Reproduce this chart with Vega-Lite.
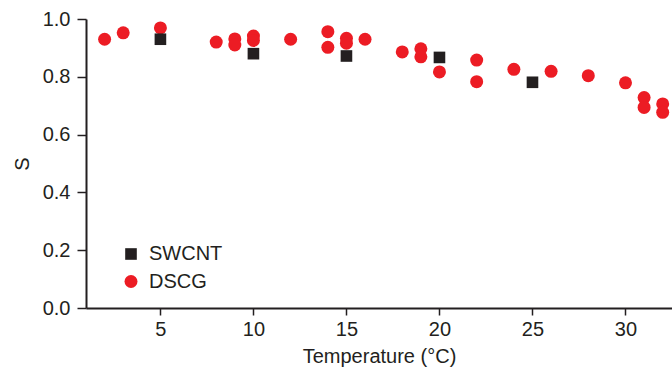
{
  "$schema": "https://vega.github.io/schema/vega-lite/v6.json",
  "width": 586,
  "height": 289,
  "autosize": "none",
  "padding": {"left": 86, "top": 19, "right": 0, "bottom": 63},
  "background": "white",
  "config": {
    "view": {"stroke": null},
    "font": "Liberation Sans",
    "axis": {
      "grid": false,
      "domainColor": "#231f20",
      "domainWidth": 2,
      "tickColor": "#231f20",
      "tickWidth": 1.5,
      "labelColor": "#231f20",
      "titleColor": "#231f20",
      "labelFontSize": 20,
      "titleFontSize": 20,
      "titleFontWeight": "normal",
      "labelFont": "Liberation Sans",
      "titleFont": "Liberation Sans"
    },
    "legend": {
      "labelFontSize": 20,
      "labelFont": "Liberation Sans",
      "labelColor": "#231f20"
    }
  },
  "layer": [
    {
      "mark": {"type": "rule", "color": "#231f20", "strokeWidth": 2},
      "encoding": {"y": {"datum": 1, "type": "quantitative"}}
    },
    {
      "data": {
        "values": [
          {"T": 2, "S": 0.930, "series": "DSCG"},
          {"T": 3, "S": 0.952, "series": "DSCG"},
          {"T": 5, "S": 0.969, "series": "DSCG"},
          {"T": 8, "S": 0.920, "series": "DSCG"},
          {"T": 9, "S": 0.931, "series": "DSCG"},
          {"T": 9, "S": 0.910, "series": "DSCG"},
          {"T": 10, "S": 0.941, "series": "DSCG"},
          {"T": 10, "S": 0.926, "series": "DSCG"},
          {"T": 12, "S": 0.930, "series": "DSCG"},
          {"T": 14, "S": 0.956, "series": "DSCG"},
          {"T": 14, "S": 0.902, "series": "DSCG"},
          {"T": 15, "S": 0.933, "series": "DSCG"},
          {"T": 15, "S": 0.916, "series": "DSCG"},
          {"T": 16, "S": 0.930, "series": "DSCG"},
          {"T": 18, "S": 0.886, "series": "DSCG"},
          {"T": 19, "S": 0.897, "series": "DSCG"},
          {"T": 19, "S": 0.869, "series": "DSCG"},
          {"T": 20, "S": 0.817, "series": "DSCG"},
          {"T": 22, "S": 0.858, "series": "DSCG"},
          {"T": 22, "S": 0.783, "series": "DSCG"},
          {"T": 24, "S": 0.826, "series": "DSCG"},
          {"T": 26, "S": 0.819, "series": "DSCG"},
          {"T": 28, "S": 0.804, "series": "DSCG"},
          {"T": 30, "S": 0.779, "series": "DSCG"},
          {"T": 31, "S": 0.728, "series": "DSCG"},
          {"T": 31, "S": 0.694, "series": "DSCG"},
          {"T": 32, "S": 0.706, "series": "DSCG"},
          {"T": 32, "S": 0.677, "series": "DSCG"},
          {"T": 5, "S": 0.930, "series": "SWCNT"},
          {"T": 10, "S": 0.880, "series": "SWCNT"},
          {"T": 15, "S": 0.872, "series": "SWCNT"},
          {"T": 20, "S": 0.867, "series": "SWCNT"},
          {"T": 25, "S": 0.781, "series": "SWCNT"}
        ]
      },
      "mark": {"type": "point", "filled": true, "opacity": 1},
      "encoding": {
        "x": {
          "field": "T",
          "type": "quantitative",
          "scale": {"domain": [1, 32.5], "nice": false, "zero": false},
          "axis": {
            "title": "Temperature (°C)",
            "values": [5, 10, 15, 20, 25, 30],
            "tickSize": 7,
            "labelPadding": 4,
            "titlePadding": 7
          }
        },
        "y": {
          "field": "S",
          "type": "quantitative",
          "scale": {"domain": [0, 1], "nice": false},
          "axis": {
            "title": "S",
            "values": [0, 0.1, 0.2, 0.3, 0.4, 0.5, 0.6, 0.7, 0.8, 0.9, 1.0],
            "labelExpr": "round(datum.value*10) % 2 == 0 ? format(datum.value, '.1f') : ''",
            "tickSize": {"condition": {"test": "round(datum.value*10) % 2 == 1", "value": 5}, "value": 9},
            "labelPadding": 7,
            "titlePadding": 10
          }
        },
        "color": {
          "field": "series",
          "type": "nominal",
          "scale": {"domain": ["SWCNT", "DSCG"], "range": ["#231f20", "#ec1c24"]},
          "legend": {
            "title": null,
            "orient": "none",
            "legendX": 35,
            "legendY": 225,
            "labelOffset": 8,
            "rowPadding": 7.5,
            "symbolStrokeWidth": 0,
            "encode": {
              "symbols": {
                "update": {
                  "size": {"signal": "datum.value === 'SWCNT' ? 180 : 210"}
                }
              }
            }
          }
        },
        "shape": {
          "field": "series",
          "type": "nominal",
          "scale": {"domain": ["SWCNT", "DSCG"], "range": ["square", "circle"]}
        },
        "size": {
          "field": "series",
          "type": "nominal",
          "scale": {"domain": ["SWCNT", "DSCG"], "range": [135, 169]}
        }
      }
    }
  ]
}
